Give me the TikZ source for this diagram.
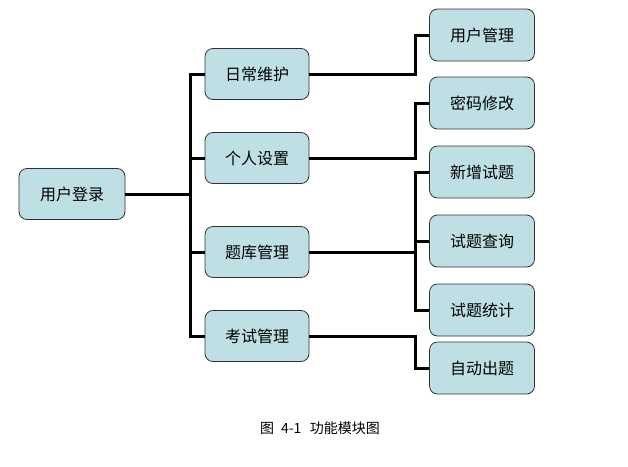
\documentclass[tikz,border=0pt]{standalone}
\usepackage{fontspec}
\setmainfont{Noto Sans CJK SC}
\definecolor{boxfill}{RGB}{190,224,228}
\definecolor{boxline}{RGB}{50,50,50}

\begin{document}
\begin{tikzpicture}[x=1pt,y=-1pt]
    \tikzstyle{every node}=[font=\fontsize{16}{19}\selectfont]
    \tikzstyle{module}=[draw=boxline, fill=boxfill, rounded corners=8pt, line width=0.8pt, minimum width=104pt, minimum height=51pt, inner sep=0pt]
    \tikzstyle{link}=[line width=3pt]

    \useasboundingbox (0,0) rectangle (628,466);

    % Root
    \node[module, minimum width=106pt] at (72,194) (Login) {用户登录};

    % Second level
    \node[module] at (257,74) (Daily) {日常维护};
    \node[module] at (257,158) (Person) {个人设置};
    \node[module] at (257,252) (Bank) {题库管理};
    \node[module] at (257,336) (Exam) {考试管理};

    % Third level
    \node[module, minimum width=105pt, minimum height=52pt] at (482,35) (UserMgr) {用户管理};
    \node[module, minimum width=105pt, minimum height=52pt] at (482,103) (Passwd) {密码修改};
    \node[module, minimum width=105pt, minimum height=52pt] at (482,172) (NewQ) {新增试题};
    \node[module, minimum width=105pt, minimum height=52pt] at (482,241) (Query) {试题查询};
    \node[module, minimum width=105pt, minimum height=52pt] at (482,310) (Stat) {试题统计};
    \node[module, minimum width=105pt, minimum height=52pt] at (482,368) (Auto) {自动出题};

    % Left bus
    \coordinate (Bus1) at (190,194);
    \draw[link] (Daily.west) -| (Bus1) |- (Exam.west);
    \draw[link] (Login) -- (Bus1);
    \draw[link] (Bus1 |- Person) -- (Person);
    \draw[link] (Bus1 |- Bank) -- (Bank);

    % Right bus
    \coordinate (Bus2) at (415,252);
    \draw[link] (Daily.east) -| (Bus2 |- UserMgr) -- (UserMgr.west);
    \draw[link] (Person.east) -| (Bus2 |- Passwd) -- (Passwd.west);
    \draw[link] (NewQ.west) -| (Bus2) |- (Stat.west);
    \draw[link] (Bank) -- (Bus2);
    \draw[link] (Bus2 |- Query) -- (Query);
    \draw[link] (Exam.east) -| (Bus2 |- Auto) -- (Auto.west);

    % Caption
    \node at (320,428) (Caption) {\fontsize{14}{16}\selectfont 图\hspace{0.5em}4-1\hspace{0.6em}功能模块图};

\end{tikzpicture}
\end{document}
